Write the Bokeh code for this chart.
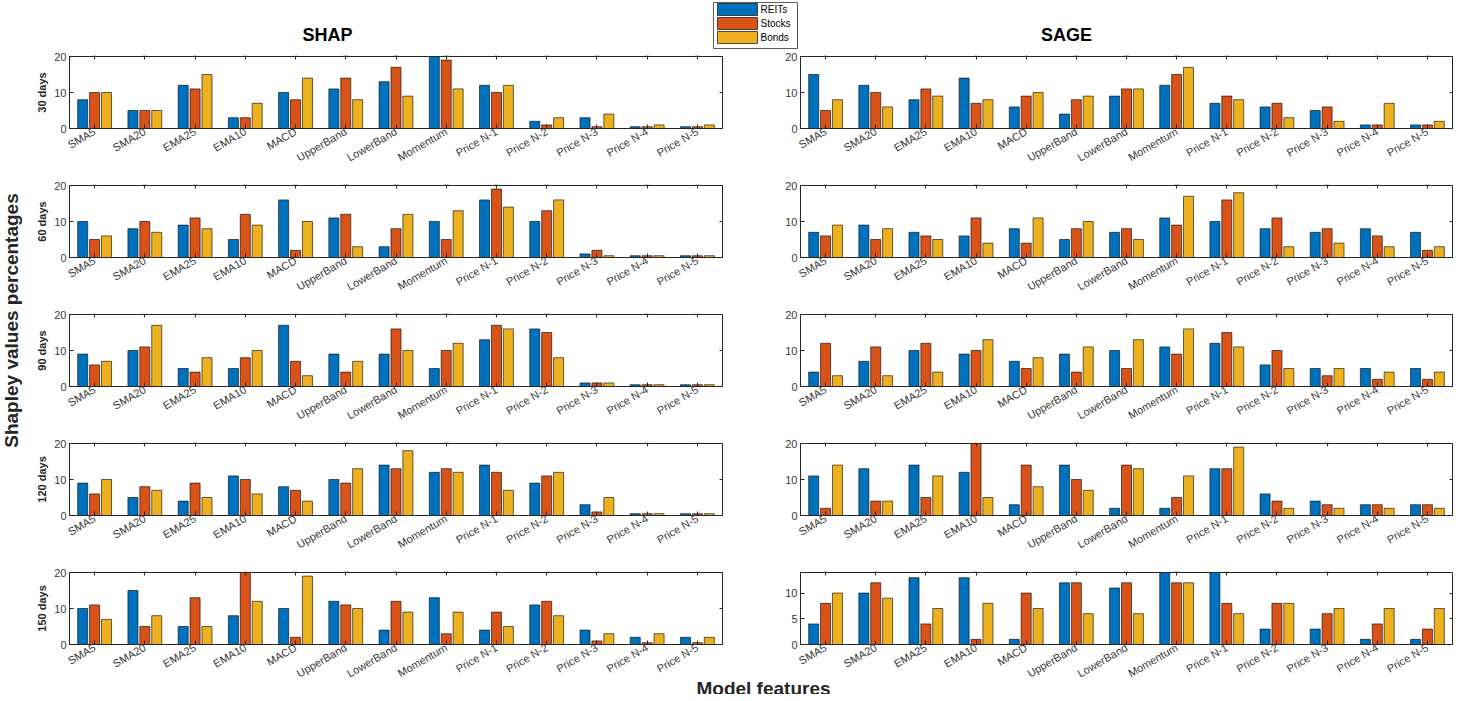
import math
from bokeh.plotting import figure
from bokeh.layouts import column, row
from bokeh.models import (ColumnDataSource, FactorRange, Range1d, CategoricalAxis,
                          LinearAxis, FixedTicker)
from bokeh.transform import dodge
from bokeh.core.properties import value
from bokeh.embed import file_html
from bokeh.resources import INLINE

# ---------------- data ----------------
features = ["SMA5", "SMA20", "EMA25", "EMA10", "MACD", "UpperBand", "LowerBand",
            "Momentum", "Price N-1", "Price N-2", "Price N-3", "Price N-4", "Price N-5"]
series = ["REITs", "Stocks", "Bonds"]
colors = ["#0072BD", "#D95319", "#EDB120"]
horizons = ["30 days", "60 days", "90 days", "120 days", "150 days"]
methods = ["SHAP", "SAGE"]

shap_30_reits = [8, 5, 12, 3, 10, 11, 13, 20, 12, 2, 3, 0.5, 0.5]
shap_30_stocks = [10, 5, 11, 3, 8, 14, 17, 19, 10, 1, 0.5, 0.5, 0.5]
shap_30_bonds = [10, 5, 15, 7, 14, 8, 9, 11, 12, 3, 4, 1, 1]

sage_30_reits = [15, 12, 8, 14, 6, 4, 9, 12, 7, 6, 5, 1, 1]
sage_30_stocks = [5, 10, 11, 7, 9, 8, 11, 15, 9, 7, 6, 1, 1]
sage_30_bonds = [8, 6, 9, 8, 10, 9, 11, 17, 8, 3, 2, 7, 2]

shap_60_reits = [10, 8, 9, 5, 16, 11, 3, 10, 16, 10, 1, 0.5, 0.5]
shap_60_stocks = [5, 10, 11, 12, 2, 12, 8, 5, 19, 13, 2, 0.5, 0.5]
shap_60_bonds = [6, 7, 8, 9, 10, 3, 12, 13, 14, 16, 0.5, 0.5, 0.5]

sage_60_reits = [7, 9, 7, 6, 8, 5, 7, 11, 10, 8, 7, 8, 7]
sage_60_stocks = [6, 5, 6, 11, 4, 8, 8, 9, 16, 11, 8, 6, 2]
sage_60_bonds = [9, 8, 5, 4, 11, 10, 5, 17, 18, 3, 4, 3, 3]

shap_90_reits = [9, 10, 5, 5, 17, 9, 9, 5, 13, 16, 1, 0.5, 0.5]
shap_90_stocks = [6, 11, 4, 8, 7, 4, 16, 10, 17, 15, 1, 0.5, 0.5]
shap_90_bonds = [7, 17, 8, 10, 3, 7, 10, 12, 16, 8, 1, 0.5, 0.5]

sage_90_reits = [4, 7, 10, 9, 7, 9, 10, 11, 12, 6, 5, 5, 5]
sage_90_stocks = [12, 11, 12, 10, 5, 4, 5, 9, 15, 10, 3, 2, 2]
sage_90_bonds = [3, 3, 4, 13, 8, 11, 13, 16, 11, 5, 5, 4, 4]

shap_120_reits = [9, 5, 4, 11, 8, 10, 14, 12, 14, 9, 3, 0.5, 0.5]
shap_120_stocks = [6, 8, 9, 10, 7, 9, 13, 13, 12, 11, 1, 0.5, 0.5]
shap_120_bonds = [10, 7, 5, 6, 4, 13, 18, 12, 7, 12, 5, 0.5, 0.5]

sage_120_reits = [11, 13, 14, 12, 3, 14, 2, 2, 13, 6, 4, 3, 3]
sage_120_stocks = [2, 4, 5, 21, 14, 10, 14, 5, 13, 4, 3, 3, 3]
sage_120_bonds = [14, 4, 11, 5, 8, 7, 13, 11, 19, 2, 2, 2, 2]

shap_150_reits = [10, 15, 5, 8, 10, 12, 4, 13, 4, 11, 4, 2, 2]
shap_150_stocks = [11, 5, 13, 21, 2, 11, 12, 3, 9, 12, 1, 0.5, 0.5]
shap_150_bonds = [7, 8, 5, 12, 19, 10, 9, 9, 5, 8, 3, 3, 2]

sage_150_reits = [4, 10, 13, 13, 1, 12, 11, 15, 15, 3, 3, 1, 1]
sage_150_stocks = [8, 12, 4, 1, 10, 12, 12, 12, 8, 8, 6, 4, 3]
sage_150_bonds = [10, 9, 7, 8, 7, 6, 6, 12, 6, 8, 7, 7, 7]

shap_data = [(shap_30_reits, shap_30_stocks, shap_30_bonds),
             (shap_60_reits, shap_60_stocks, shap_60_bonds),
             (shap_90_reits, shap_90_stocks, shap_90_bonds),
             (shap_120_reits, shap_120_stocks, shap_120_bonds),
             (shap_150_reits, shap_150_stocks, shap_150_bonds)]
sage_data = [(sage_30_reits, sage_30_stocks, sage_30_bonds),
             (sage_60_reits, sage_60_stocks, sage_60_bonds),
             (sage_90_reits, sage_90_stocks, sage_90_bonds),
             (sage_120_reits, sage_120_stocks, sage_120_bonds),
             (sage_150_reits, sage_150_stocks, sage_150_bonds)]

shap_ylims = [20, 20, 20, 20, 20]
sage_ylims = [20, 20, 20, 20, 14]
shap_yticks = [[0, 10, 20]] * 5
sage_yticks = [[0, 10, 20]] * 4 + [[0, 5, 10]]

# ---------------- style ----------------
FONT = "Liberation Sans"
AX = "#262626"
TICKC = "#3a3a3a"
offsets = [-0.237, 0.0, 0.237]
FRAME_H = 72
PAGE_W = 1469


def make_panel(vals, ylabel, ymax, yticks, width, bl, br, bb):
    reits, stocks, bonds = vals
    src = ColumnDataSource(dict(feature=features, REITs=reits, Stocks=stocks, Bonds=bonds))
    p = figure(x_range=FactorRange(factors=features), y_range=Range1d(0, ymax),
               width=width, height=4 + FRAME_H + bb,
               min_border_left=bl, min_border_right=br, min_border_top=4, min_border_bottom=bb,
               output_backend="svg", toolbar_location=None)
    for name, col, off in zip(series, colors, offsets):
        p.vbar(x=dodge("feature", off, range=p.x_range), top=name, width=0.2, source=src,
               fill_color=col, line_color="black", line_width=0.6)
    p.grid.visible = False
    p.outline_line_color = AX
    p.outline_line_width = 1
    p.background_fill_color = "white"
    p.border_fill_color = "white"

    xa = p.xaxis[0]
    xa.major_label_orientation = math.pi / 6
    xa.major_label_text_font = FONT
    xa.major_label_text_font_size = "11px"
    xa.major_label_text_color = TICKC
    xa.major_label_standoff = 2
    xa.major_tick_in = 4
    xa.major_tick_out = 0
    xa.axis_line_color = AX
    xa.major_tick_line_color = AX

    ya = p.yaxis[0]
    ya.ticker = FixedTicker(ticks=yticks, minor_ticks=[])
    ya.major_label_text_font = FONT
    ya.major_label_text_font_size = "11px"
    ya.major_label_text_color = TICKC
    ya.major_label_standoff = 3
    ya.major_tick_in = 4
    ya.major_tick_out = 0
    ya.minor_tick_line_color = None
    ya.axis_line_color = AX
    ya.major_tick_line_color = AX
    if ylabel:
        ya.axis_label = ylabel
        ya.axis_label_text_font = FONT
        ya.axis_label_text_font_size = "11px"
        ya.axis_label_text_font_style = "bold"
        ya.axis_label_text_color = AX
        ya.axis_label_standoff = 3

    top = CategoricalAxis(major_label_overrides={f: "" for f in features},
                          major_label_text_font_size="1px", major_label_standoff=0,
                          major_tick_in=3, major_tick_out=0, axis_line_color=None,
                          major_tick_line_color=AX)
    p.add_layout(top, "above")
    right = LinearAxis(ticker=FixedTicker(ticks=yticks, minor_ticks=[]),
                       major_label_overrides={t: "" for t in yticks},
                       major_label_text_font_size="1px", major_label_standoff=0,
                       major_tick_in=3, major_tick_out=0, axis_line_color=None,
                       minor_tick_line_color=None, major_tick_line_color=AX)
    p.add_layout(right, "right")
    return p


def blank(width, height):
    p = figure(width=width, height=height, x_range=Range1d(0, width), y_range=Range1d(0, height),
               min_border=0, x_axis_type=None, y_axis_type=None,
               output_backend="svg", toolbar_location=None)
    p.grid.visible = False
    p.outline_line_color = None
    return p


# ---------------- header: titles + legend ----------------
HEAD_H = 52
header = blank(PAGE_W, HEAD_H)
header.text(x=[327, 1066], y=[HEAD_H - 34, HEAD_H - 34], text=methods,
            text_font=value(FONT), text_font_size=value("18px"), text_font_style="bold",
            text_color="black", text_align="center", text_baseline="middle")
header.quad(left=[713], right=[797], bottom=[HEAD_H - 48], top=[HEAD_H - 2],
            fill_color="white", line_color="#333333", line_width=0.8)
leg_y = [HEAD_H - 9, HEAD_H - 23, HEAD_H - 37]
header.quad(left=[717] * 3, right=[757] * 3, bottom=[y - 6 for y in leg_y],
            top=[y + 6 for y in leg_y], fill_color=colors, line_color="#222222", line_width=0.8)
header.text(x=[760] * 3, y=leg_y, text=series, text_font=value(FONT),
            text_font_size=value("10px"), text_color="black", text_align="left",
            text_baseline="middle")

# ---------------- panels ----------------
BB = [53, 53, 53, 53, 44]
rows = []
for i, h in enumerate(horizons):
    lp = make_panel(shap_data[i], h, shap_ylims[i], shap_yticks[i], 727, 32, 38, BB[i])
    rp = make_panel(sage_data[i], None, sage_ylims[i], sage_yticks[i], 709, 40, 17, BB[i])
    rows.append(row(lp, rp))
grid = column(*rows)
GRID_H = sum(4 + FRAME_H + b for b in BB)

ylab = blank(33, GRID_H)
ylab.text(x=[11], y=[GRID_H - 268], text=["Shapley values percentages"], angle=math.pi / 2,
          text_font=value(FONT), text_font_size=value("19px"), text_font_style="bold",
          text_color="#262626", text_align="center", text_baseline="middle")

# ---------------- footer (overlaps the empty bottom strip of the last row) ----------------
FOOT_H = 34
FOOT_TOP = 660
footer = blank(PAGE_W, FOOT_H)
footer.margin = (FOOT_TOP - (HEAD_H + GRID_H), 0, 0, 0)
footer.background_fill_alpha = 0
footer.border_fill_alpha = 0
footer.text(x=[763], y=[FOOT_H - (688 - FOOT_TOP)], text=["Model features"],
            text_font=value(FONT), text_font_size=value("19px"), text_font_style="bold",
            text_color="#262626", text_align="center", text_baseline="alphabetic")

layout = column(header, row(ylab, grid), footer)

open("out.html", "w").write(file_html(layout, INLINE))
